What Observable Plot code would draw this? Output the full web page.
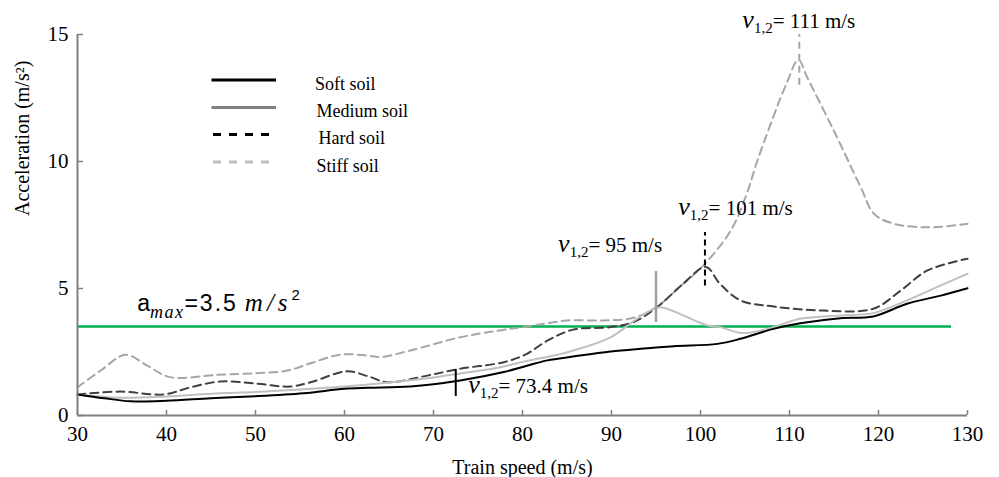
<!DOCTYPE html>
<html><head><meta charset="utf-8">
<script src="https://cdn.jsdelivr.net/npm/d3@7"></script>
<script src="https://cdn.jsdelivr.net/npm/@observablehq/plot@0.6"></script>
<style>
body{margin:0;background:#fff;}
#wrap{position:relative;width:999px;height:477px;overflow:hidden;}
#legend{position:absolute;left:0;top:0;pointer-events:none;}
</style></head><body>
<div id="wrap"></div>
<script>
// ---- data ----
const softX = [30, 33, 36, 40, 45, 50, 55.4, 60, 62.6, 67.4, 73, 77.9, 80.5, 82.8, 85.7, 89.9, 93.3, 97, 101.9, 104.5, 108.2, 111.2, 115.7, 119.4, 123.2, 127, 130];
const softY = [0.83, 0.68, 0.56, 0.58, 0.68, 0.76, 0.88, 1.05, 1.09, 1.14, 1.38, 1.71, 1.96, 2.17, 2.32, 2.52, 2.63, 2.73, 2.82, 3.02, 3.41, 3.63, 3.83, 3.90, 4.40, 4.72, 5.01];

const mediumX = [30, 34.8, 40, 45, 50, 55, 60, 65, 70, 73, 77.5, 80.5, 83, 85.7, 89.9, 92.5, 94.6, 95.5, 97, 98.5, 100.8, 102.2, 104.5, 106.5, 108.2, 111.2, 115.7, 119.4, 123.2, 127, 130];
const mediumY = [0.83, 0.70, 0.75, 0.86, 0.93, 1.02, 1.14, 1.30, 1.50, 1.65, 1.90, 2.15, 2.32, 2.56, 3.08, 3.72, 4.18, 4.26, 4.10, 3.87, 3.54, 3.48, 3.25, 3.32, 3.48, 3.81, 3.94, 4.03, 4.53, 5.12, 5.58];

const hardX = [30, 34.8, 39.7, 42.7, 46.1, 50.2, 53.9, 56.2, 60.3, 62.6, 64.8, 69.3, 73, 77.9, 80.5, 82.8, 85.7, 89.9, 92.5, 95.1, 98.1, 100.6, 102.2, 104.5, 108.2, 113.8, 119.4, 122.5, 125.5, 130];
const hardY = [0.83, 0.94, 0.83, 1.11, 1.34, 1.25, 1.14, 1.31, 1.74, 1.55, 1.31, 1.57, 1.84, 2.10, 2.43, 2.95, 3.38, 3.48, 3.68, 4.26, 5.20, 5.85, 5.18, 4.53, 4.29, 4.13, 4.20, 4.92, 5.71, 6.17];

const stiffX = [30, 32.6, 35.4, 37.8, 40.4, 45.7, 50.2, 53.6, 56.2, 59.6, 62.6, 64, 67.4, 73, 77.5, 81.2, 85, 89.1, 92.5, 95, 98.1, 100.3, 103.4, 105.2, 106.4, 109.7, 111, 112, 115, 118, 119.5, 121.7, 125.8, 130];
const stiffY = [1.11, 1.77, 2.39, 1.97, 1.51, 1.60, 1.67, 1.77, 2.06, 2.40, 2.36, 2.30, 2.56, 3.08, 3.35, 3.54, 3.74, 3.74, 3.85, 4.26, 5.20, 5.90, 7.28, 8.73, 10.04, 13.1, 14.0, 13.3, 11.2, 8.99, 7.94, 7.55, 7.41, 7.55];

const soils = ["Soft soil", "Medium soil", "Hard soil", "Stiff soil"];
const xTicks = [30, 40, 50, 60, 70, 80, 90, 100, 110, 120, 130];
const yTicks = [0, 5, 10, 15];
const limitValue = 3.5;
const limitSpan = [30, 128.2];
const limitLabel = "a_max=3.5 m/s2";
const xLabel = "Train speed (m/s)";
const yLabel = "Acceleration (m/s²)";

// critical-speed markers: speed, marker extent, label text and label anchor
const markerSoil = ["Soft soil", "Medium soil", "Hard soil", "Stiff soil"];
const markerSpeed = [72.5, 95, 100.5, 111.1];
const markerLow = [0.75, 3.66, 5.1, 13.0];
const markerHigh = [1.81, 5.67, 7.2, 15.0];
const markerText = ["73.4", "95", "101", "111"];
const labelX = [73.9, 84.0, 97.5, 104.7];
const labelY = [0.88, 6.45, 7.9, 15.25];

// ---- styles ----
const SERIF = "'Liberation Serif', 'Times New Roman', serif";
const SANS = "'Liberation Sans', Arial, sans-serif";
const plotStyle = {
  "Soft soil":   {stroke: "#000000", strokeWidth: 2, dash: null},
  "Medium soil": {stroke: "#c0c0c0", strokeWidth: 2, dash: null},
  "Hard soil":   {stroke: "#404040", strokeWidth: 2, dash: "8,5"},
  "Stiff soil":  {stroke: "#a6a6a6", strokeWidth: 2, dash: "8,5"}
};
const legendStyle = {
  "Soft soil":   {stroke: "#000000", w: 3, dash: null},
  "Medium soil": {stroke: "#808080", w: 3, dash: null},
  "Hard soil":   {stroke: "#000000", w: 3, dash: "8,8"},
  "Stiff soil":  {stroke: "#c0c0c0", w: 3, dash: "8,8"}
};
const markerStyle = {
  "Soft soil":   {stroke: "#000000", w: 2, dash: null},
  "Medium soil": {stroke: "#a0a0a0", w: 2.5, dash: null},
  "Hard soil":   {stroke: "#000000", w: 2, dash: "6,4"},
  "Stiff soil":  {stroke: "#a6a6a6", w: 2, dash: "7,5"}
};

const seriesData = {
  "Soft soil": softX.map((x, i) => ({x, y: softY[i]})),
  "Medium soil": mediumX.map((x, i) => ({x, y: mediumY[i]})),
  "Hard soil": hardX.map((x, i) => ({x, y: hardY[i]})),
  "Stiff soil": stiffX.map((x, i) => ({x, y: stiffY[i]}))
};
const markers = markerSoil.map((s, i) => ({soil: s, v: markerSpeed[i], y1: markerLow[i], y2: markerHigh[i], t: "v1,2=" + markerText[i], lx: labelX[i], ly: labelY[i]}));

const drawOrder = ["Stiff soil", "Hard soil", "Medium soil", "Soft soil"];
const lineMarks = drawOrder.map(s => Plot.line(seriesData[s], {
  x: "x", y: "y", curve: "catmull-rom",
  stroke: plotStyle[s].stroke, strokeWidth: plotStyle[s].strokeWidth,
  strokeDasharray: plotStyle[s].dash
}));
const markerMarks = markers.map(m => Plot.ruleX([m], {
  x: "v", y1: "y1", y2: "y2",
  stroke: markerStyle[m.soil].stroke, strokeWidth: markerStyle[m.soil].w,
  strokeDasharray: markerStyle[m.soil].dash
}));

const chart = Plot.plot({
  width: 999, height: 477,
  marginLeft: 77, marginRight: 32, marginTop: 34, marginBottom: 62,
  x: {domain: [30, 130]},
  y: {domain: [0, 15]},
  style: {fontFamily: SERIF, background: "white", overflow: "visible"},
  marks: [
    Plot.axisX({ticks: xTicks, tickSize: -5, tickPadding: 16, stroke: "#808080", strokeWidth: 1.5, fill: "black", fontSize: 21, fontFamily: SERIF, label: null}),
    Plot.axisY({ticks: yTicks, tickSize: -6, tickPadding: 15, stroke: "#808080", strokeWidth: 1.5, fill: "black", fontSize: 21, fontFamily: SERIF, label: null}),
    Plot.ruleY([limitValue], {x1: limitSpan[0], x2: limitSpan[1], stroke: "#00b050", strokeWidth: 2.5}),
    ...lineMarks,
    ...markerMarks,
    Plot.ruleY([0], {stroke: "#808080", strokeWidth: 2}),
    Plot.ruleX([30], {y1: 0, y2: 15, stroke: "#808080", strokeWidth: 2}),
    Plot.text(markers, {x: "lx", y: "ly", text: "t", textAnchor: "start", lineAnchor: "bottom", fontSize: 21, fontFamily: SERIF, fill: "black"}),
    Plot.text([limitLabel], {x: 36.7, y: 4.1, text: d => d, textAnchor: "start", lineAnchor: "bottom", fontSize: 23, fontFamily: SANS, fill: "black"}),
    Plot.text([xLabel], {frameAnchor: "bottom", dy: 52, text: d => d, lineAnchor: "middle", fontSize: 20, fontFamily: SERIF, fill: "black"}),
    Plot.text([yLabel], {frameAnchor: "left", dx: -55, dy: -9, rotate: -90, text: d => d, lineAnchor: "middle", fontSize: 20, fontFamily: SERIF, fill: "black"})
  ]
});
document.getElementById("wrap").appendChild(chart);

// force the serif face on every Plot text
d3.select(chart).selectAll("text").style("font-family", SERIF);

// rich text: subscripts / italics
d3.select(chart).selectAll("text").each(function() {
  const t = this.textContent;
  const s = d3.select(this);
  if (t.startsWith("v1,2=")) {
    const rest = t.slice(5);
    s.text(null);
    s.append("tspan").attr("font-style", "italic").attr("font-size", 26).style("font-family", SERIF).text("v");
    s.append("tspan").attr("font-size", 15).attr("dy", 5).style("font-family", SERIF).text("1,2");
    s.append("tspan").attr("dy", -5).style("font-family", SERIF).text("= " + rest + " m/s");
  } else if (t === limitLabel) {
    s.text(null).style("font-family", SANS);
    s.append("tspan").style("font-family", SANS).text("a");
    s.append("tspan").attr("font-style", "italic").attr("font-size", 18).attr("letter-spacing", 1.5).attr("dy", 7).style("font-family", SERIF).text("max");
    s.append("tspan").attr("dy", -7).attr("letter-spacing", 2).style("font-family", SANS).text("=3.5");
    s.append("tspan").attr("dx", 7).attr("font-style", "italic").attr("font-size", 25).attr("letter-spacing", 4).style("font-family", SERIF).text("m/s");
    s.append("tspan").attr("font-size", 15).attr("dy", -11).style("font-family", SANS).text("2");
  }
});

// legend overlay
const legendLineY = [80, 107.5, 134.5, 162];
const legendTextX = [315, 316.5, 318.5, 316.5];
const lg = d3.select("#wrap").append("svg").attr("id", "legend").attr("width", 999).attr("height", 477);
soils.forEach((s, i) => {
  const st = legendStyle[s];
  lg.append("line").attr("x1", st.dash ? 213 : 211.5).attr("x2", st.dash ? 274 : 276)
    .attr("y1", legendLineY[i]).attr("y2", legendLineY[i])
    .attr("stroke", st.stroke).attr("stroke-width", st.w).attr("stroke-dasharray", st.dash);
  lg.append("text").attr("x", legendTextX[i]).attr("y", legendLineY[i] + 9.5)
    .style("font-family", SERIF).attr("font-size", 18).text(s);
});
</script>
</body></html>
